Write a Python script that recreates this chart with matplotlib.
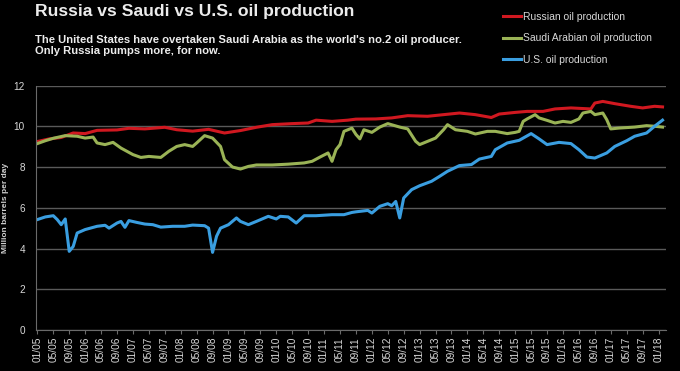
import matplotlib
matplotlib.use("Agg")
import matplotlib.pyplot as plt

### data (month index: 0 = Jan 2005)
russia_m = [0, 3, 6, 9, 12, 15, 20, 23, 27, 32, 35, 39, 43, 47, 51, 55, 59, 64, 68, 70, 74, 78, 80,
            85, 89, 93, 98, 102, 106, 110, 114, 116, 120, 123, 127, 130, 134, 139, 140, 142, 145,
            149, 152, 155, 157]
russia_v = [9.25, 9.38, 9.45, 9.67, 9.64, 9.80, 9.82, 9.90, 9.87, 9.95, 9.83, 9.76, 9.85, 9.67, 9.79,
            9.95, 10.08, 10.13, 10.16, 10.30, 10.24, 10.30, 10.35, 10.36, 10.41, 10.52, 10.49, 10.57,
            10.65, 10.57, 10.43, 10.60, 10.68, 10.73, 10.73, 10.85, 10.90, 10.85, 11.14, 11.22, 11.11,
            10.98, 10.90, 10.98, 10.95]

saudi_m = [0, 2, 4, 7, 10, 12, 14, 15, 17, 19, 21, 24, 26, 28, 31, 33, 35, 37, 39, 40, 42, 44, 46,
           47, 49, 51, 53, 55, 59, 63, 67, 69, 71, 73, 74, 75, 76, 77, 79, 80, 81, 82, 84, 86, 88,
           91, 93, 95, 96, 98, 100, 102, 103, 105, 108, 110, 113, 115, 118, 120, 121, 122, 123, 125,
           126, 128, 130, 132, 134, 136, 137, 139, 140, 142, 143, 144, 146, 150, 153, 155, 157]
saudi_v = [9.15, 9.29, 9.41, 9.54, 9.51, 9.42, 9.47, 9.18, 9.10, 9.21, 8.93, 8.61, 8.47, 8.52, 8.47,
           8.77, 9.01, 9.10, 9.01, 9.18, 9.54, 9.42, 9.01, 8.36, 8.00, 7.90, 8.03, 8.10, 8.10, 8.14,
           8.20, 8.28, 8.49, 8.69, 8.28, 8.85, 9.10, 9.75, 9.91, 9.60, 9.38, 9.83, 9.70, 9.96, 10.13,
           9.96, 9.87, 9.26, 9.10, 9.26, 9.42, 9.83, 10.08, 9.83, 9.75, 9.62, 9.75, 9.75, 9.64, 9.70,
           9.75, 10.24, 10.36, 10.57, 10.41, 10.29, 10.16, 10.24, 10.19, 10.36, 10.65, 10.73, 10.57,
           10.65, 10.32, 9.87, 9.91, 9.96, 10.03, 10.00, 9.96]

us_m = [0, 2, 4, 5, 6, 7, 8, 9, 10, 12, 15, 17, 18, 20, 21, 22, 23, 25, 27, 29, 31, 34, 37, 39, 42,
        43, 44, 45, 46, 48, 50, 51, 53, 55, 58, 60, 61, 63, 65, 67, 70, 74, 77, 79, 80, 83, 84, 86,
        88, 89, 90, 91, 92, 94, 96, 99, 101, 103, 106, 109, 111, 114, 115, 118, 121, 124, 126, 128,
        131, 134, 136, 138, 140, 143, 145, 148, 150, 153, 155, 157]
us_v = [5.42, 5.55, 5.61, 5.42, 5.17, 5.45, 3.86, 4.10, 4.76, 4.93, 5.09, 5.14, 5.00, 5.25, 5.33,
        5.04, 5.37, 5.28, 5.20, 5.17, 5.05, 5.09, 5.09, 5.15, 5.12, 5.00, 3.81, 4.60, 5.00, 5.17,
        5.50, 5.33, 5.17, 5.33, 5.58, 5.45, 5.58, 5.55, 5.25, 5.61, 5.61, 5.66, 5.66, 5.77, 5.80,
        5.87, 5.74, 6.07, 6.20, 6.10, 6.31, 5.50, 6.48, 6.89, 7.08, 7.30, 7.54, 7.79, 8.07, 8.12,
        8.39, 8.52, 8.85, 9.18, 9.31, 9.64, 9.38, 9.10, 9.21, 9.15, 8.85, 8.49, 8.44, 8.69, 9.01,
        9.29, 9.51, 9.67, 10.00, 10.30]

tick_months = list(range(0, 157, 4))
tick_labels = [f"{m % 12 + 1:02d}/{5 + m // 12:02d}" for m in tick_months]

### plot
plt.rcParams['font.family'] = ['Liberation Sans', 'DejaVu Sans']
fig = plt.figure(figsize=(6.8, 3.71), dpi=100, facecolor='black')
ax = fig.add_axes([0.053, 0.1105, 0.926, 0.659], facecolor='black')

ax.plot(russia_m, russia_v, color='#d01820', lw=2.2, label='Russian oil production')
ax.plot(saudi_m, saudi_v, color='#9ab356', lw=2.2, label='Saudi Arabian oil production')
ax.plot(us_m, us_v, color='#3a9ee0', lw=2.2, label='U.S. oil production')

ax.set_xlim(-0.33, 157.8)
ax.set_ylim(0, 12)
ax.set_yticks(range(0, 13, 2))
ax.set_xticks(tick_months)
ax.set_xticklabels(tick_labels, rotation=90)
ax.grid(axis='y', color='#5a5a5a', lw=1)
ax.set_axisbelow(True)
for s in ['top', 'right']:
    ax.spines[s].set_visible(False)
for s in ['left', 'bottom']:
    ax.spines[s].set_color('#6a6a6a')
ax.tick_params(axis='x', colors='#6a6a6a', labelcolor='#d8d8d8', labelsize=7.3, length=3, pad=2)
ax.tick_params(axis='y', length=0, labelcolor='#d8d8d8', labelsize=7.2, pad=8)

# y axis title, placed by hand so it stays inside the figure
fig.text(6/680, 1 - 208/371, 'Million barrels per day', color='#cfcfcf', fontsize=6,
         fontweight='bold', rotation=90, ha='center', va='center')

fig.text(35/680, 1 - 4/371, 'Russia vs Saudi vs U.S. oil production', color='#ececec',
         fontsize=12.6, fontweight='bold', va='top', ha='left')
fig.text(35/680, 1 - 35/371, "The United States have overtaken Saudi Arabia as the world's no.2 oil producer.\nOnly Russia pumps more, for now.",
         color='#ececec', fontsize=8.1, fontweight='bold', va='top', ha='left', linespacing=1.1)

leg = fig.legend(loc='upper left', bbox_to_anchor=(503/680, 1 - 12/371), frameon=False,
                 fontsize=7.5, labelcolor='#d8d8d8', handlelength=1.75, handletextpad=0.15,
                 labelspacing=1.1, borderpad=0, borderaxespad=0)

plt.savefig('out.png', dpi=100, facecolor='black')
